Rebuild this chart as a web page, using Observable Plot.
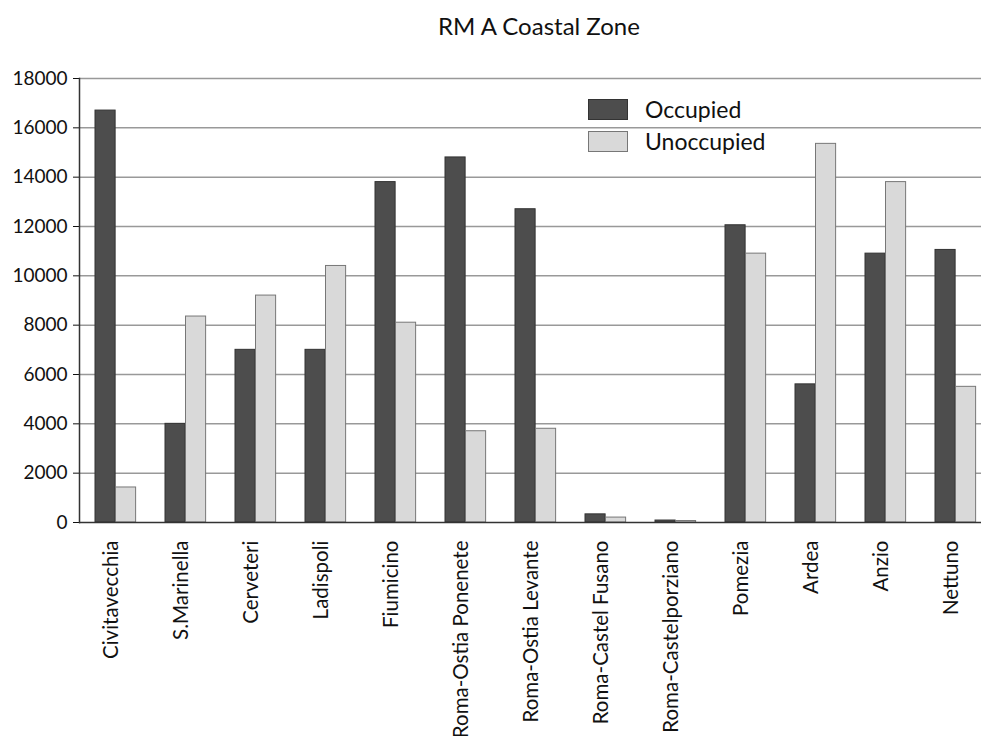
<!DOCTYPE html>
<html>
<head>
<meta charset="utf-8">
<script src="https://cdn.jsdelivr.net/npm/d3@7"></script>
<script src="https://cdn.jsdelivr.net/npm/@observablehq/plot@0.6"></script>
<style>
  body { margin: 0; background: #fff; font-family: Lato, "Open Sans", sans-serif; }
  #wrap { position: relative; width: 981px; height: 736px; overflow: hidden; }
  #title { height: 60px; line-height: 52px; text-align: center; font-size: 24px; color: #111; padding-left: 97px; box-sizing: border-box; }
  #chart svg { max-width: none !important; }
  .leg { position: absolute; left: 588px; display: flex; align-items: center; font-size: 23px; color: #111; }
  .sw { width: 40px; height: 21px; box-sizing: border-box; margin-right: 17px; }
</style>
</head>
<body>
<div id="wrap">
  <div id="title">RM A Coastal Zone</div>
  <div id="chart"></div>
  <div class="leg" style="top:95px"><div class="sw" style="background:#4d4d4d;border:1px solid #333"></div>Occupied</div>
  <div class="leg" style="top:127px"><div class="sw" style="background:#d9d9d9;border:1px solid #777"></div>Unoccupied</div>
</div>
<script>
const categories = ["Civitavecchia","S.Marinella","Cerveteri","Ladispoli","Fiumicino","Roma-Ostia Ponenete","Roma-Ostia Levante","Roma-Castel Fusano","Roma-Castelporziano","Pomezia","Ardea","Anzio","Nettuno"];
const occupied   = [16700, 4000, 7000, 7000, 13800, 14800, 12700, 330, 80, 12050, 5600, 10900, 11050];
const unoccupied = [1420, 8350, 9200, 10400, 8100, 3700, 3800, 200, 60, 10900, 15350, 13800, 5500];
const yTicks = [0,2000,4000,6000,8000,10000,12000,14000,16000,18000];

const data = categories.map((c, i) => ({cat: c, occ: occupied[i], unocc: unoccupied[i]}));

const W = 994, ML = 79, MR = 0;
const band = (W - ML - MR) / categories.length;
const barW = 20.5, off = 13;

const plot = Plot.plot({
  width: W,
  height: 676,
  marginLeft: ML,
  marginRight: MR,
  marginTop: 18,
  marginBottom: 214,
  style: {fontFamily: "Lato, 'Open Sans', sans-serif", fontSize: "19px", color: "#111", background: "#fff", overflow: "visible", maxWidth: "none"},
  x: {domain: categories, padding: 0, label: null},
  y: {domain: [0, 18000], ticks: yTicks, label: null, tickSize: 6, tickPadding: 6, tickFormat: d => String(d)},
  marks: [
    Plot.ruleY(yTicks.filter(d => d > 0), {stroke: "#999", strokeWidth: 1.5}),
    Plot.barY(data, {x: "cat", y: "occ", fill: "#4d4d4d", stroke: "#333", strokeWidth: 1,
      insetLeft: off, insetRight: band - off - barW}),
    Plot.barY(data, {x: "cat", y: "unocc", fill: "#d9d9d9", stroke: "#777", strokeWidth: 1,
      insetLeft: off + barW, insetRight: band - off - 2 * barW}),
    Plot.ruleY([0], {stroke: "#333", strokeWidth: 1.5}),
    Plot.frame({anchor: "left", stroke: "#333", strokeWidth: 1.5}),
    Plot.axisX({tickSize: 0, tickRotate: -90, tickPadding: 18, fontSize: 20.5, dx: -6, label: null})
  ]
});
plot.style.maxWidth = "none";
document.getElementById("chart").appendChild(plot);
</script>
</body>
</html>
